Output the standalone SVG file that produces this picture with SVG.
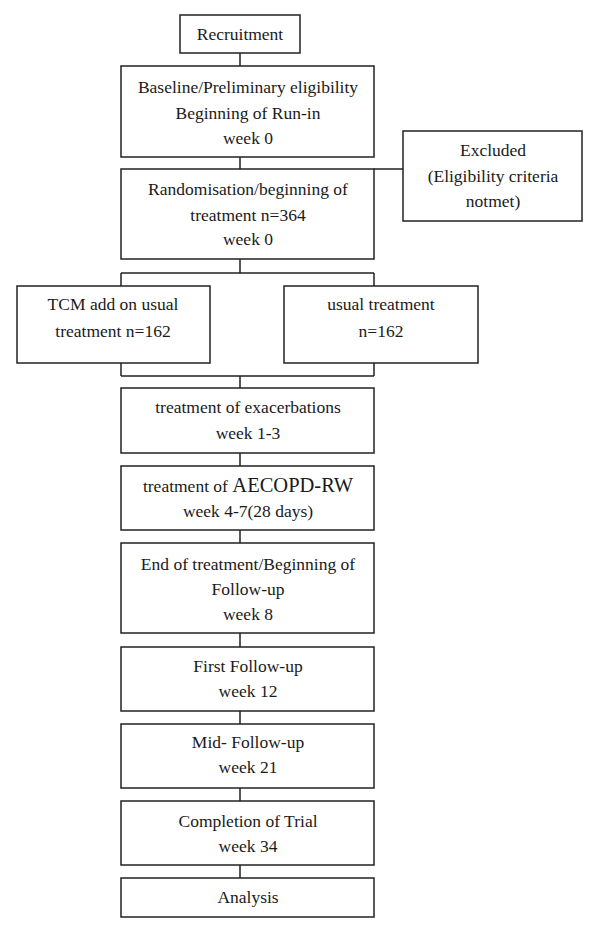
<svg xmlns="http://www.w3.org/2000/svg" width="600" height="936" viewBox="0 0 600 936">
<style>
.box{fill:#fff;stroke:#222;stroke-width:1.5}
.ln{fill:none;stroke:#222;stroke-width:1.5}
text{font-family:"Liberation Serif","Times New Roman",serif;font-size:17.5px;fill:#1a1a1a;text-anchor:middle}
</style>
<rect x="0" y="0" width="600" height="936" fill="#fff"/>
<g id="connectors">
<path class="ln" d="M240 53V66M240 157V169M374 169H403M240 259V273M121 273H374M121 273V286M374 273V286M121 363V376M374 363V376M121 376H374M240 376V388M240 453V466M240 530V543M240 633V647M240 711V724M240 788V801M240 865V878"/>
</g>
<g id="recruitment"><rect class="box" x="180" y="15" width="120" height="38"/><text x="240" y="40">Recruitment</text></g>
<g id="baseline"><rect class="box" x="121" y="66" width="253" height="91"/><text x="248" y="93">Baseline/Preliminary eligibility</text><text x="248" y="119">Beginning of Run-in</text><text x="248" y="144">week 0</text></g>
<g id="excluded"><rect class="box" x="403" y="131" width="179" height="90"/><text x="493" y="156">Excluded</text><text x="493" y="182">(Eligibility criteria</text><text x="493" y="207">notmet)</text></g>
<g id="randomisation"><rect class="box" x="121" y="169" width="253" height="90"/><text x="248" y="195">Randomisation/beginning of</text><text x="248" y="221">treatment n=364</text><text x="248" y="245">week 0</text></g>
<g id="tcm"><rect class="box" x="17" y="286" width="193" height="77"/><text x="113" y="310">TCM add on usual</text><text x="113" y="337">treatment n=162</text></g>
<g id="usual"><rect class="box" x="284" y="286" width="194" height="77"/><text x="381" y="310">usual treatment</text><text x="381" y="337">n=162</text></g>
<g id="exacerbations"><rect class="box" x="121" y="388" width="253" height="65"/><text x="248" y="413">treatment of exacerbations</text><text x="248" y="439">week 1-3</text></g>
<g id="aecopd"><rect class="box" x="121" y="466" width="253" height="64"/><text x="248" y="492">treatment of <tspan style="font-size:20.5px">AECOPD-RW</tspan></text><text x="248" y="517">week 4-7(28 days)</text></g>
<g id="end"><rect class="box" x="121" y="543" width="253" height="90"/><text x="248" y="570">End of treatment/Beginning of</text><text x="248" y="595">Follow-up</text><text x="248" y="620">week 8</text></g>
<g id="first"><rect class="box" x="121" y="647" width="253" height="64"/><text x="248" y="672">First Follow-up</text><text x="248" y="697">week 12</text></g>
<g id="mid"><rect class="box" x="121" y="724" width="253" height="64"/><text x="248" y="748">Mid- Follow-up</text><text x="248" y="773">week 21</text></g>
<g id="completion"><rect class="box" x="121" y="801" width="253" height="64"/><text x="248" y="827">Completion of Trial</text><text x="248" y="852">week 34</text></g>
<g id="analysis"><rect class="box" x="121" y="878" width="253" height="39"/><text x="248" y="903">Analysis</text></g>
</svg>
